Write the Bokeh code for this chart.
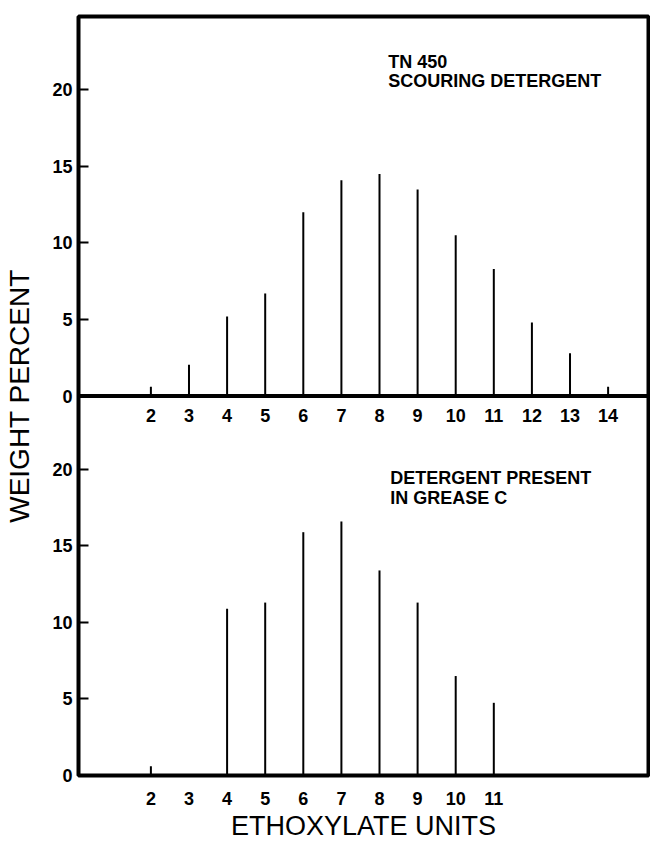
from bokeh.plotting import figure
from bokeh.models import Range1d, FixedTicker, CustomJSTickFormatter, Span, Label
from bokeh.embed import file_html
from bokeh.resources import INLINE
from bokeh.core.properties import value

# ---- data ----
units_top = [2, 3, 4, 5, 6, 7, 8, 9, 10, 11, 12, 13, 14]
weight_top = [0.6, 2.05, 5.2, 6.7, 12.0, 14.1, 14.5, 13.5, 10.5, 8.3, 4.8, 2.8, 0.6]
top_tick_labels = ["2", "3", "4", "5", "6", "7", "8", "9", "10", "11", "12", "13", "14"]

units_bottom = [2, 4, 5, 6, 7, 8, 9, 10, 11]
weight_bottom = [0.6, 10.9, 11.3, 15.9, 16.6, 13.4, 11.3, 6.5, 4.75]
bottom_ticks = [2, 3, 4, 5, 6, 7, 8, 9, 10, 11]

y_ticks = [0, 5, 10, 15, 20]
title_top = ["TN 450", "SCOURING DETERGENT"]
title_bottom = ["DETERGENT PRESENT", "IN GREASE C"]

# ---- layout constants ----
PANEL = 24.8          # height of each panel in weight-percent units
FONT = "Liberation Sans"

p = figure(width=650, height=843, output_backend="svg", toolbar_location=None,
           x_range=Range1d(0.1, 15.06), y_range=Range1d(0, 2 * PANEL),
           min_border_left=78, min_border_right=2, min_border_top=16, min_border_bottom=66)
p.extra_y_ranges = {"top": Range1d(-PANEL, PANEL)}

p.xgrid.visible = False
p.ygrid.visible = False
p.outline_line_color = "black"
p.outline_line_width = 4
p.background_fill_color = "white"
p.border_fill_color = "white"

# middle baseline shared by both panels
p.add_layout(Span(location=0, dimension="width", y_range_name="top",
                  line_color="black", line_width=4))

# stems
p.segment(x0=units_top, y0=0, x1=units_top, y1=weight_top, y_range_name="top",
          line_color="black", line_width=2)
p.segment(x0=units_bottom, y0=0, x1=units_bottom, y1=weight_bottom,
          line_color="black", line_width=2)

# x labels of the upper panel (drawn inside, under the middle line)
p.text(x=units_top, y=-1.3, text=top_tick_labels, y_range_name="top",
       text_align="center", text_baseline="middle",
       text_font=value(FONT), text_font_style="bold", text_font_size="18px",
       text_color="black")

# bottom x axis
xa = p.xaxis[0]
xa.ticker = FixedTicker(ticks=bottom_ticks)
xa.axis_line_color = None
xa.major_tick_line_color = None
xa.minor_tick_line_color = None
xa.major_label_standoff = 10
xa.major_label_text_font = FONT
xa.major_label_text_font_style = "bold"
xa.major_label_text_font_size = "18px"
xa.major_label_text_color = "black"
xa.axis_label = "ETHOXYLATE UNITS"
xa.axis_label_standoff = 3
xa.axis_label_text_font = FONT
xa.axis_label_text_font_style = "normal"
xa.axis_label_text_font_size = "27px"
xa.axis_label_text_color = "black"

# left axis: both panels share it
ya = p.yaxis[0]
ya.ticker = FixedTicker(ticks=y_ticks + [PANEL + t for t in y_ticks])
ya.formatter = CustomJSTickFormatter(args=dict(off=PANEL),
                                     code="const v = tick >= off - 0.01 ? tick - off : tick; return v.toFixed(0);")
ya.axis_line_color = None
ya.major_tick_in = 10
ya.major_tick_out = 0
ya.major_tick_line_width = 2
ya.major_tick_line_color = "black"
ya.minor_tick_line_color = None
ya.major_label_standoff = 6
ya.major_label_text_font = FONT
ya.major_label_text_font_style = "bold"
ya.major_label_text_font_size = "18px"
ya.major_label_text_color = "black"
ya.axis_label = "WEIGHT PERCENT"
ya.axis_label_standoff = 14
ya.axis_label_text_font = FONT
ya.axis_label_text_font_style = "normal"
ya.axis_label_text_font_size = "28px"
ya.axis_label_text_color = "black"

# panel captions
for txt, yy in zip(title_top, [22.46, 21.22]):
    p.add_layout(Label(x=8.23, y=yy, y_range_name="top", text=txt, text_baseline="top",
                       text_font=FONT, text_font_style="bold", text_font_size="18px",
                       text_color="black"))
for txt, yy in zip(title_bottom, [20.07, 18.76]):
    p.add_layout(Label(x=8.28, y=yy, text=txt, text_baseline="top",
                       text_font=FONT, text_font_style="bold", text_font_size="18px",
                       text_color="black"))

open("out.html", "w").write(file_html(p, INLINE))
